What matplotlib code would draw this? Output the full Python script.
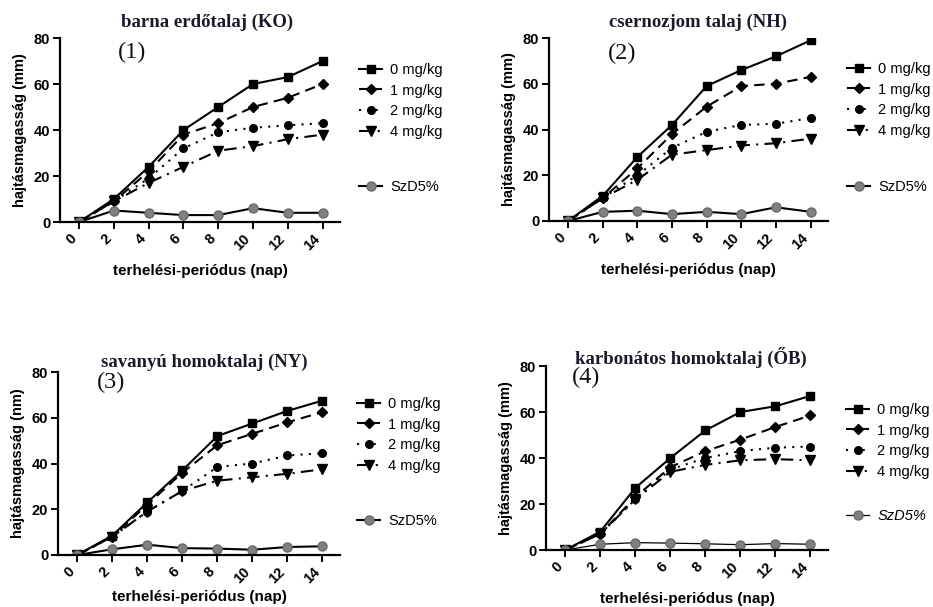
import numpy as np
import matplotlib.pyplot as plt

days = [0, 2, 4, 6, 8, 10, 12, 14]
doses = ['0 mg/kg', '1 mg/kg', '2 mg/kg', '4 mg/kg']

titles = ['barna erdőtalaj (KO)', 'csernozjom talaj (NH)',
          'savanyú homoktalaj (NY)', 'karbonátos homoktalaj (ŐB)']
tags = ['(1)', '(2)', '(3)', '(4)']
ylabels = ['hajtásmagasság (mm)', 'hajtásmagasság (mm)',
           'hajtásmagasság (nm)', 'hajtásmagasság (mm)']

# panel 1
ko = [[0, 10, 24, 40, 50, 60, 63, 70],
      [0, 9, 22, 38, 43, 50, 54, 60],
      [0, 9, 19, 32, 39, 41, 42, 43],
      [0, 9, 17, 24, 31, 33, 36, 38]]
ko_szd = [0, 5, 4, 3, 3, 6, 4, 4]
# panel 2
nh = [[0, 11, 28, 42, 59, 66, 72, 79],
      [0, 10, 23, 38, 50, 59, 60, 63],
      [0, 10, 20, 32, 39, 42, 42.5, 45],
      [0, 10, 18, 29, 31, 33, 34, 36]]
nh_szd = [0, 4, 4.5, 3, 4, 3, 6, 4]
# panel 3
ny = [[0, 8.5, 23, 37, 52, 57.5, 63, 67.5],
      [0, 8, 22, 36, 48, 53, 58, 62.5],
      [0, 8, 19, 28, 38.5, 40, 43.5, 44.5],
      [0, 8, 19, 28, 32.5, 34, 35.5, 37.5]]
ny_szd = [0, 2.5, 4.5, 3, 2.8, 2.3, 3.5, 3.8]
# panel 4
ob = [[0, 8, 27, 40, 52, 60, 62.5, 67],
      [0, 7, 23, 36, 43, 48, 53.5, 58.5],
      [0, 7, 22, 35, 40, 43, 44.5, 45],
      [0, 7, 22, 34, 37, 39, 39.5, 39]]
ob_szd = [0, 2.5, 3.2, 3, 2.7, 2.3, 2.8, 2.5]

series = [ko, nh, ny, ob]
szd = [ko_szd, nh_szd, ny_szd, ob_szd]

W, H = 933, 607
fig = plt.figure(figsize=(W / 100, H / 100), dpi=100)

# axes boxes in pixels: left, top, right, bottom
boxes = [(60, 38, 340, 222), (549, 38, 828, 221),
         (58, 372, 340, 555), (546, 366, 828, 550)]
title_pos = [(207, 22), (698, 22), (204, 362), (691, 357)]
tag_pos = [(118, 52), (608, 53), (97, 382), (572, 377)]
leg_pos = [(359, 63), (847, 62), (357, 397), (846, 403)]
szd_pos = [(359, 180), (847, 180), (357, 514), (846, 509)]
xlabpad = [8, 8, 3, 8]

styles = [dict(ls='-', marker='s'),
          dict(ls=(0, (5, 3)), marker='D'),
          dict(ls=(0, (1, 3)), marker='o'),
          dict(ls=(0, (6, 3, 1, 3)), marker='v')]
msizes = [6, 5, 5.5, 6.5]

for i in range(4):
    l, t, r, b = boxes[i]
    ax = fig.add_axes([l / W, 1 - b / H, (r - l) / W, (b - t) / H])
    handles = []
    for k in range(4):
        h, = ax.plot(days, series[i][k], color='black', lw=1.5,
                     markersize=msizes[k], label=doses[k], **styles[k])
        handles.append(h)
    lw_s = 1.5 if i < 3 else 0.9
    hs, = ax.plot(days, szd[i], color='black', lw=lw_s, marker='o',
                  markersize=6.5, markerfacecolor='#808080',
                  markeredgecolor='#6a6a6a', label='SzD5%')

    ax.set_xlim(-1.1, 15.0)
    ax.set_ylim(0, 80)
    ax.set_xticks(days)
    ax.set_yticks([0, 20, 40, 60, 80])
    ax.set_xticklabels([str(d) for d in days], rotation=45, ha='right',
                       fontsize=10.5, fontweight='bold', family='Liberation Sans')
    ax.set_yticklabels(['0', '20', '40', '60', '80'], fontsize=10.5,
                       fontweight='bold', family='Liberation Sans')
    for s in ['top', 'right']:
        ax.spines[s].set_visible(False)
    for s in ['left', 'bottom']:
        ax.spines[s].set_linewidth(1.6)
    ax.tick_params(width=1.4, length=5, direction='out', pad=2)
    ax.set_xlabel('terhelési-periódus (nap)', fontsize=11, fontweight='bold',
                  family='Liberation Sans', labelpad=xlabpad[i])
    ax.set_ylabel(ylabels[i], fontsize=10.5, fontweight='bold',
                  family='Liberation Sans', labelpad=5)

    tx, ty = title_pos[i]
    fig.text(tx / W, 1 - ty / H, titles[i], ha='center', va='center',
             fontsize=13.5, fontweight='bold', family='Liberation Serif',
             color='#1c1a2a')
    gx, gy = tag_pos[i]
    fig.text(gx / W, 1 - gy / H, tags[i], ha='left', va='center',
             fontsize=17.5, family='Liberation Serif', color='#111111')

    lx, ly = leg_pos[i]
    fig.legend(handles=handles, loc='upper left',
               bbox_to_anchor=(lx / W, 1 - ly / H), frameon=False,
               handlelength=1.6, handletextpad=0.55, labelspacing=0.45,
               borderpad=0, borderaxespad=0,
               prop=dict(family='Liberation Sans', size=10.5))
    sx, sy = szd_pos[i]
    fig.legend(handles=[hs], loc='upper left',
               bbox_to_anchor=(sx / W, 1 - sy / H), frameon=False,
               handlelength=1.6, handletextpad=0.55, borderpad=0,
               borderaxespad=0,
               prop=dict(family='Liberation Sans', size=10.5,
                         style='italic' if i == 3 else 'normal'))

fig.savefig('out.png', dpi=100)
